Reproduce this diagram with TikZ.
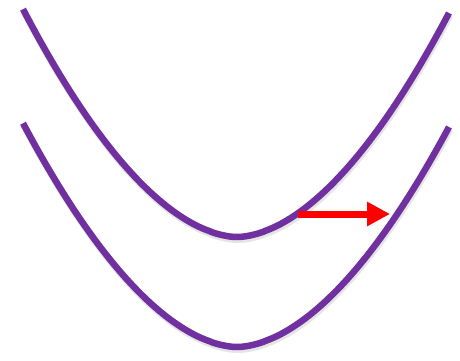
\documentclass[tikz,border=0pt]{standalone}
\usetikzlibrary{arrows.meta}
\definecolor{curvepurple}{RGB}{112,48,160}
\tikzstyle{curve} = [line width=6.5pt, draw=curvepurple]
\tikzstyle{shade} = [line width=7pt, draw=black, opacity=0.10]
\tikzstyle{arrow} = [line width=7pt, draw=red, -{Triangle[length=23pt, width=23pt]}]

\begin{document}
\begin{tikzpicture}[x=1pt, y=1pt]
\useasboundingbox (0,0) rectangle (460,-361);

% Curves (soft shadow first)
\foreach \vy/\depth in {237/224, 347/220} {
  \draw[shade, yshift=-2.5pt, xshift=1pt] plot[domain=23:449, samples=120]
    (\x, {-\vy + \depth*pow((abs(\x-237)+0.01)/212, 1.8)});
  \draw[curve] plot[domain=23:449, samples=120]
    (\x, {-\vy + \depth*pow((abs(\x-237)+0.01)/212, 1.8)});
}

% Shift arrow
\coordinate (shiftstart) at (298,-214);
\coordinate (shiftend) at (390,-214);
\draw[shade, yshift=-2.5pt, xshift=1pt, -{Triangle[length=23pt, width=23pt]}] (shiftstart) -- (shiftend);
\draw[arrow] (shiftstart) -- (shiftend);

\end{tikzpicture}
\end{document}
